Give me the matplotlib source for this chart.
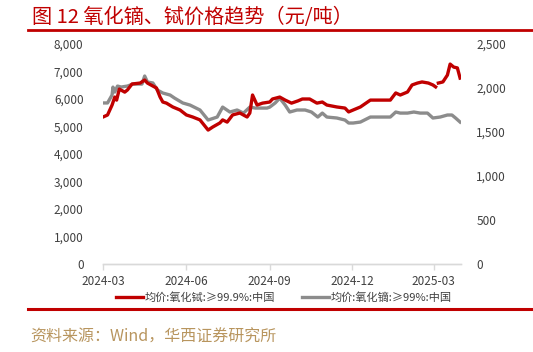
import matplotlib
matplotlib.use('Agg')
import matplotlib.pyplot as plt
import matplotlib.dates as mdates
from matplotlib.lines import Line2D
import numpy as np
import pandas as pd

plt.rcParams['font.family'] = ['Noto Sans CJK SC', 'DejaVu Sans']

# 均价:氧化铽:≥99.9%:中国 (left axis)
tb_dates = ['2024-03-01', '2024-03-06', '2024-03-11', '2024-03-14', '2024-03-16', '2024-03-19',
            '2024-03-25', '2024-03-28', '2024-04-02', '2024-04-11', '2024-04-16', '2024-04-19',
            '2024-04-29', '2024-05-03', '2024-05-06', '2024-05-10', '2024-05-17', '2024-05-25',
            '2024-06-01', '2024-06-08', '2024-06-16', '2024-06-25', '2024-06-30', '2024-07-08',
            '2024-07-11', '2024-07-16', '2024-07-22', '2024-07-30', '2024-08-07', '2024-08-10',
            '2024-08-13', '2024-08-18', '2024-08-24', '2024-09-01', '2024-09-04', '2024-09-12',
            '2024-09-18', '2024-09-25', '2024-10-02', '2024-10-07', '2024-10-15', '2024-10-23',
            '2024-10-29', '2024-11-03', '2024-11-14', '2024-11-23', '2024-11-27', '2024-12-02',
            '2024-12-10', '2024-12-21', '2025-01-12', '2025-01-18', '2025-01-23', '2025-01-31',
            '2025-02-05', '2025-02-11', '2025-02-16', '2025-02-23', '2025-02-28', '2025-03-03',
            '2025-03-04', '2025-03-06', '2025-03-11', '2025-03-16', '2025-03-19', '2025-03-23',
            '2025-03-27', '2025-03-30']
tb_values = [5345, 5418, 5780, 6070, 5960, 6360,
             6250, 6330, 6545, 6580, 6690, 6580,
             6400, 6070, 5890, 5850, 5710, 5600,
             5420, 5345, 5240, 4870, 4980, 5130,
             5240, 5160, 5420, 5490, 5345, 5490,
             6145, 5780, 5850, 5890, 6000, 6070,
             5960, 5850, 5930, 6000, 6000, 5850,
             5890, 5780, 5710, 5670, 5530, 5600,
             5710, 5960, 5960, 6220, 6145, 6255,
             6510, 6580, 6620, 6580, 6510, 6440,
             np.nan, 6580, 6620, 6870, 7270, 7160,
             7130, 6760]

# 均价:氧化镝:≥99%:中国 (right axis)
dy_dates = ['2024-03-01', '2024-03-06', '2024-03-11', '2024-03-12', '2024-03-14', '2024-03-17',
            '2024-03-21', '2024-03-28', '2024-04-03', '2024-04-13', '2024-04-16', '2024-04-19',
            '2024-04-25', '2024-04-30', '2024-05-06', '2024-05-14', '2024-05-19', '2024-05-28',
            '2024-06-05', '2024-06-16', '2024-06-25', '2024-07-05', '2024-07-11', '2024-07-19',
            '2024-07-27', '2024-08-03', '2024-08-10', '2024-08-16', '2024-08-29', '2024-09-01',
            '2024-09-07', '2024-09-12', '2024-09-18', '2024-09-23', '2024-10-01', '2024-10-10',
            '2024-10-17', '2024-10-24', '2024-10-29', '2024-11-03', '2024-11-14', '2024-11-23',
            '2024-11-27', '2024-12-02', '2024-12-10', '2024-12-21', '2025-01-12', '2025-01-18',
            '2025-01-23', '2025-01-31', '2025-02-07', '2025-02-14', '2025-02-22', '2025-02-28',
            '2025-03-08', '2025-03-16', '2025-03-21', '2025-03-25', '2025-03-30']
dy_values = [1830, 1830, 1920, 2010, 1954, 2022,
             2011, 2022, 2045, 2045, 2136, 2068,
             2057, 1977, 1943, 1920, 1885, 1830,
             1806, 1750, 1636, 1670, 1783, 1727,
             1750, 1715, 1783, 1772, 1772, 1783,
             1830, 1885, 1806, 1727, 1750, 1750,
             1727, 1670, 1715, 1670, 1659, 1636,
             1602, 1602, 1613, 1670, 1670, 1727,
             1715, 1715, 1727, 1715, 1715, 1659,
             1670, 1693, 1693, 1659, 1613]

x_ticks = ['2024-03-01', '2024-06-01', '2024-09-01', '2024-12-01', '2025-03-01']
left_ticks = [0, 1000, 2000, 3000, 4000, 5000, 6000, 7000, 8000]
right_ticks = [0, 500, 1000, 1500, 2000, 2500]

RED = '#C00000'
GRAY = '#8C8C8C'
TXT = '#404040'

fig = plt.figure(figsize=(5.33, 3.52), dpi=100)
ax = fig.add_axes([103 / 533, 1 - 264 / 352, (461 - 103) / 533, (264 - 44) / 352])
ax2 = ax.twinx()

tb = pd.Series(tb_values, index=pd.to_datetime(tb_dates))
dy = pd.Series(dy_values, index=pd.to_datetime(dy_dates))

ax.plot(tb.index, tb.values, color=RED, lw=2.4, zorder=3)
ax2.plot(dy.index, dy.values, color=GRAY, lw=2.4, zorder=2)
ax.set_zorder(ax2.get_zorder() + 1)
ax.patch.set_visible(False)

ax.set_xlim(pd.Timestamp('2024-03-01'), pd.Timestamp('2025-03-31'))
ax.set_ylim(0, 8000)
ax2.set_ylim(0, 2500)
ax.set_yticks(left_ticks)
ax2.set_yticks(right_ticks)
ax.set_yticklabels([f'{v:,}' for v in left_ticks])
ax2.set_yticklabels([f'{v:,}' for v in right_ticks])
ax.set_xticks(pd.to_datetime(x_ticks))
ax.xaxis.set_major_formatter(mdates.DateFormatter('%Y-%m'))

for a in (ax, ax2):
    for s in ('top', 'left', 'right'):
        a.spines[s].set_visible(False)
    a.spines['bottom'].set_color('#D9D9D9')
    a.spines['bottom'].set_linewidth(1.0)
ax.tick_params(axis='y', length=0, pad=14, labelsize=8.5, labelcolor=TXT)
ax2.tick_params(axis='y', length=0, pad=11, labelsize=8.5, labelcolor=TXT)
ax.tick_params(axis='x', length=4, width=1, color='#D9D9D9', pad=4, labelsize=8.5, labelcolor=TXT)

# legend below the axis
handles = [Line2D([], [], color=RED, lw=2.4), Line2D([], [], color=GRAY, lw=2.4)]
labels = ['均价:氧化铽:≥99.9%:中国', '均价:氧化镝:≥99%:中国']
fig.legend(handles, labels, loc='center', bbox_to_anchor=(284 / 533, 1 - 297 / 352),
           ncol=2, frameon=False, fontsize=8, handlelength=2.4, handletextpad=0.2,
           columnspacing=2.4, labelcolor=TXT)

# title and rules
fig.text(32 / 533, 1 - 17 / 352, '图 12 氧化镝、铽价格趋势（元/吨）', color=RED,
         fontsize=14.5, ha='left', va='center')
fig.add_artist(Line2D([28 / 533, 1.0], [1 - 30 / 352] * 2, color=RED, lw=2))
fig.add_artist(Line2D([28 / 533, 1.0], [1 - 309 / 352] * 2, color=RED, lw=2.2))
fig.text(30 / 533, 1 - 337 / 352, '资料来源：Wind，华西证券研究所', color='#B8955E',
         fontsize=11.5, ha='left', va='center')

fig.savefig('out.png', dpi=100)
